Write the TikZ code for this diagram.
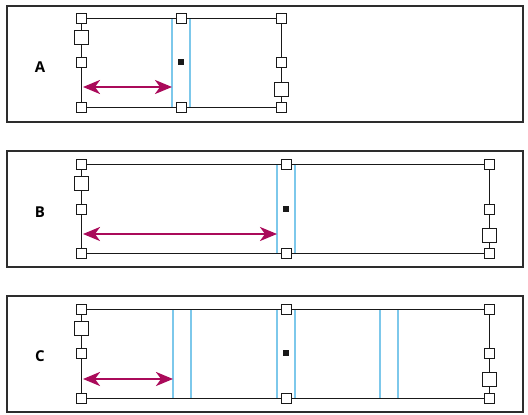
\documentclass[tikz,border=0pt]{standalone}
\usepackage{fontspec}
\setsansfont{Open Sans}
\usetikzlibrary{arrows.meta}
\definecolor{framegray}{RGB}{45,45,45}
\definecolor{guideblue}{RGB}{125,200,235}
\definecolor{spanred}{RGB}{170,10,90}
\begin{document}
\begin{tikzpicture}[
        x=1pt, y=-1pt,
        panel/.style={draw=framegray, line width=1.7pt},
        edge/.style={draw=black!90, line width=1pt},
        handle/.style={draw=black!90, fill=white, line width=0.8pt,
            minimum size=10pt, inner sep=0pt},
        bighandle/.style={handle, minimum size=14pt},
        centre/.style={fill=black!90, minimum size=5.5pt, inner sep=0pt},
        guide/.style={draw=guideblue, line width=1.3pt},
        span/.style={draw=spanred, line width=2.6pt,
            {Stealth[length=17pt,width=14pt,inset=5pt]}-{Stealth[length=17pt,width=14pt,inset=5pt]}},
        tag/.style={font=\sffamily\bfseries\fontsize{15}{17}\selectfont}
    ]
    \useasboundingbox (0,0) rectangle (528,415);

    % frames
    \draw[panel] (7,6) rectangle (523,122);
    \draw[panel] (7,151) rectangle (523,267);
    \draw[panel] (7,296) rectangle (523,412);

    % panel A
    \node[tag] (labA) at (40,67) {A};
    \draw[guide] (172,18) -- (172,107);
    \draw[guide] (190,18) -- (190,107);
    \node[handle] (a-tl) at (81,18) {};
    \node[handle] (a-tc) at (181,18) {};
    \node[handle] (a-tr) at (281,18) {};
    \node[handle] (a-bl) at (81,107) {};
    \node[handle] (a-bc) at (181,107) {};
    \node[handle] (a-br) at (281,107) {};
    \node[bighandle] (a-lb) at (81,37) {};
    \node[handle] (a-lm) at (81,62) {};
    \node[handle] (a-rm) at (281,62) {};
    \node[bighandle] (a-rb) at (281,89) {};
    \node[centre] (a-c) at (181,62) {};
    \draw[edge] (a-tl) -- (a-tc) -- (a-tr) -- (a-rm) -- (a-rb) -- (a-br)
        -- (a-bc) -- (a-bl) -- (a-lm) -- (a-lb) -- (a-tl);
    \coordinate (a-from) at (83,87);
    \coordinate (a-to) at (172,87);
    \draw[span] (a-from) -- (a-to);

    % panel B
    \node[tag] (labB) at (40,212) {B};
    \draw[guide] (277,164) -- (277,253);
    \draw[guide] (295,164) -- (295,253);
    \node[handle] (b-tl) at (81,164) {};
    \node[handle] (b-tc) at (286,164) {};
    \node[handle] (b-tr) at (489,164) {};
    \node[handle] (b-bl) at (81,253) {};
    \node[handle] (b-bc) at (286,253) {};
    \node[handle] (b-br) at (489,253) {};
    \node[bighandle] (b-lb) at (81,183) {};
    \node[handle] (b-lm) at (81,209) {};
    \node[handle] (b-rm) at (489,209) {};
    \node[bighandle] (b-rb) at (489,235) {};
    \node[centre] (b-c) at (286,209) {};
    \draw[edge] (b-tl) -- (b-tc) -- (b-tr) -- (b-rm) -- (b-rb) -- (b-br)
        -- (b-bc) -- (b-bl) -- (b-lm) -- (b-lb) -- (b-tl);
    \coordinate (b-from) at (83,234);
    \coordinate (b-to) at (277,234);
    \draw[span] (b-from) -- (b-to);

    % panel C
    \node[tag] (labC) at (40,356) {C};
    \draw[guide] (173,309) -- (173,398);
    \draw[guide] (191,309) -- (191,398);
    \draw[guide] (277,309) -- (277,398);
    \draw[guide] (295,309) -- (295,398);
    \draw[guide] (380,309) -- (380,398);
    \draw[guide] (398,309) -- (398,398);
    \node[handle] (c-tl) at (81,309) {};
    \node[handle] (c-tc) at (286,309) {};
    \node[handle] (c-tr) at (489,309) {};
    \node[handle] (c-bl) at (81,398) {};
    \node[handle] (c-bc) at (286,398) {};
    \node[handle] (c-br) at (489,398) {};
    \node[bighandle] (c-lb) at (81,328) {};
    \node[handle] (c-lm) at (81,353) {};
    \node[handle] (c-rm) at (489,353) {};
    \node[bighandle] (c-rb) at (489,379) {};
    \node[centre] (c-c) at (286,353) {};
    \draw[edge] (c-tl) -- (c-tc) -- (c-tr) -- (c-rm) -- (c-rb) -- (c-br)
        -- (c-bc) -- (c-bl) -- (c-lm) -- (c-lb) -- (c-tl);
    \coordinate (c-from) at (83,379);
    \coordinate (c-to) at (173,379);
    \draw[span] (c-from) -- (c-to);
\end{tikzpicture}
\end{document}
